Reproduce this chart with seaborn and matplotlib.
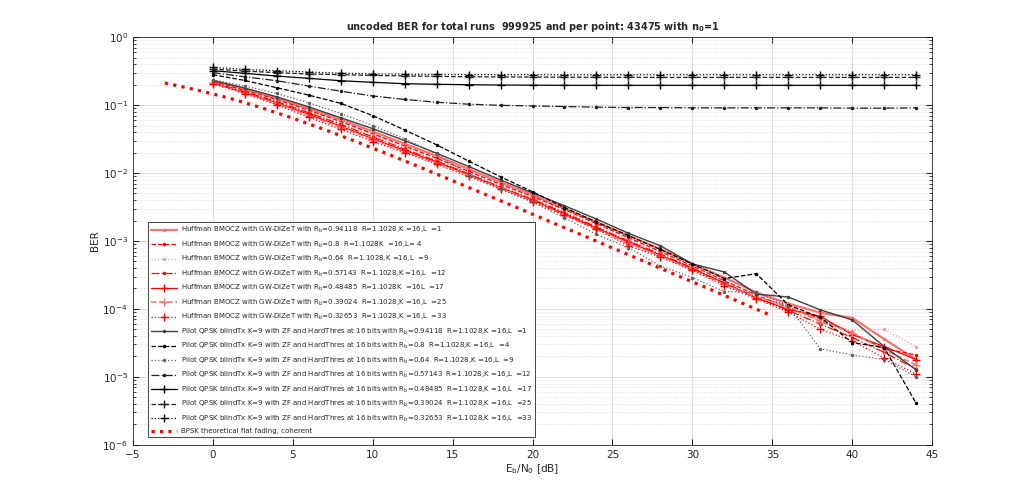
import numpy as np
import pandas as pd
import matplotlib
matplotlib.use("Agg")
import matplotlib.pyplot as plt
import seaborn as sns
from matplotlib.ticker import LogLocator, NullFormatter

# Eb/N0 grid of the simulations
snr = [0, 2, 4, 6, 8, 10, 12, 14, 16, 18, 20, 22, 24, 26, 28, 30, 32, 34, 36, 38, 40, 42, 44]

# Huffman BMOCZ with GW-DiZeT, one list per L
huff_L1 = [0.228, 0.172, 0.126, 0.089, 0.061, 0.041, 0.027, 0.0178, 0.0115, 0.0073, 0.0048, 0.0030,
           0.00190, 0.00120, 7.6e-4, 4.6e-4, 2.9e-4, 1.75e-4, 1.2e-4, 8.8e-5, 7.4e-5, 3.6e-5, 1.8e-5]
huff_L4 = [0.222, 0.165, 0.12, 0.084, 0.057, 0.038, 0.025, 0.0165, 0.0106, 0.0068, 0.0045, 0.0029,
           0.00180, 0.00112, 7.0e-4, 4.3e-4, 2.6e-4, 1.6e-4, 1.05e-4, 7.2e-5, 4.4e-5, 2.6e-5, 2.1e-5]
huff_L9 = [0.218, 0.16, 0.115, 0.08, 0.054, 0.036, 0.0238, 0.0156, 0.0100, 0.0064, 0.0042, 0.0027,
           0.00168, 0.00105, 6.6e-4, 4.1e-4, 2.5e-4, 1.55e-4, 1.0e-4, 6.8e-5, 4.8e-5, 5.0e-5, 2.8e-5]
huff_L12 = [0.215, 0.157, 0.112, 0.077, 0.052, 0.034, 0.0225, 0.0150, 0.0097, 0.0062, 0.0041, 0.0026,
            0.0016, 0.00100, 6.4e-4, 4.0e-4, 2.4e-4, 1.5e-4, 9.5e-5, 6.0e-5, 3.8e-5, 2.3e-5, 1.3e-5]
huff_L17 = [0.212, 0.153, 0.108, 0.073, 0.049, 0.032, 0.0215, 0.0145, 0.0095, 0.0061, 0.0040, 0.0025,
            0.00155, 9.6e-4, 6.2e-4, 3.9e-4, 2.4e-4, 1.45e-4, 9.8e-5, 7.8e-5, 4.2e-5, 2.8e-5, 1.8e-5]
huff_L25 = [0.21, 0.15, 0.105, 0.07, 0.047, 0.031, 0.0205, 0.0140, 0.0093, 0.0060, 0.0039, 0.0024,
            0.0015, 9.2e-4, 6.0e-4, 3.8e-4, 2.3e-4, 1.5e-4, 1.1e-4, 6.5e-5, 4.5e-5, 2.5e-5, 1.5e-5]
huff_L33 = [0.207, 0.147, 0.101, 0.066, 0.044, 0.029, 0.020, 0.0135, 0.0089, 0.0058, 0.0038, 0.0024,
            0.0015, 8.5e-4, 5.8e-4, 3.7e-4, 2.2e-4, 1.4e-4, 9.0e-5, 5.0e-5, 3.4e-5, 1.9e-5, 1.1e-5]

# Pilot QPSK blindTx, one list per L
pilot_L1 = [0.23, 0.178, 0.132, 0.094, 0.065, 0.045, 0.030, 0.0195, 0.0125, 0.0079, 0.0051, 0.0033,
            0.0021, 0.00130, 8.5e-4, 4.6e-4, 3.5e-4, 1.65e-4, 1.5e-4, 9.7e-5, 6.9e-5, 2.8e-5, 1.27e-5]
pilot_L4 = [0.28, 0.23, 0.18, 0.14, 0.106, 0.07, 0.043, 0.026, 0.015, 0.0088, 0.0053, 0.0031,
            0.0019, 0.0012, 7.5e-4, 4.6e-4, 2.8e-4, 3.3e-4, 1.15e-4, 7.5e-5, 3.2e-5, 2.7e-5, 4.1e-6]
pilot_L9 = [0.235, 0.19, 0.148, 0.108, 0.075, 0.050, 0.032, 0.019, 0.0095, 0.0058, 0.0037, 0.0022,
            0.00125, 8.0e-4, 4.3e-4, 2.9e-4, 1.8e-4, 1.75e-4, 1.1e-4, 2.6e-5, 2.1e-5, 1.8e-5, 1.0e-5]
pilot_L12 = [0.30, 0.26, 0.228, 0.19, 0.16, 0.136, 0.121, 0.11, 0.103, 0.099, 0.097, 0.095,
             0.093, 0.092, 0.092, 0.091, 0.091, 0.091, 0.091, 0.091, 0.09, 0.09, 0.091]
pilot_L17 = [0.32, 0.293, 0.267, 0.247, 0.228, 0.216, 0.206, 0.202, 0.199, 0.197, 0.196, 0.195,
             0.195, 0.195, 0.195, 0.195, 0.195, 0.195, 0.195, 0.195, 0.195, 0.195, 0.195]
pilot_L25 = [0.338, 0.316, 0.30, 0.286, 0.28, 0.273, 0.268, 0.264, 0.261, 0.259, 0.258, 0.257,
             0.256, 0.256, 0.255, 0.255, 0.255, 0.255, 0.255, 0.255, 0.255, 0.255, 0.255]
pilot_L33 = [0.358, 0.335, 0.32, 0.306, 0.295, 0.288, 0.284, 0.282, 0.281, 0.28, 0.28, 0.279,
             0.279, 0.279, 0.279, 0.279, 0.279, 0.279, 0.279, 0.279, 0.279, 0.279, 0.279]

# BPSK theoretical curve
bpsk_snr = [-3, -1, 1, 3, 5, 7, 9, 11, 13, 15, 17, 19, 21, 23, 25, 27, 29, 31, 33, 35]
bpsk_ber = [0.211, 0.167, 0.127, 0.092, 0.064, 0.0435, 0.0288, 0.0188, 0.0121, 0.0077, 0.0049,
            0.00312, 0.00197, 0.00125, 7.9e-4, 5.0e-4, 3.15e-4, 2.0e-4, 1.25e-4, 7.9e-5]

rates = ["0.94118", "0.8", "0.64", "0.57143", "0.48485", "0.39024", "0.32653"]
huff_tails = ["  R=1.1028,K =16,L  =1", "  R=1.1028K  =16,L= 4", "  R=1.1028,K =16,L  =9",
              "  R=1.1028,K =16,L  =12", "  R=1.1028K  =16L  =17", "  R=1.1028,K =16,L  =25",
              "  R=1.1028,K =16,L  =33"]
pilot_tails = ["  R=1.1028,K =16,L  =1", "  R=1.1028,K =16,L  =4", "  R=1.1028,K =16,L  =9",
               "  R=1.1028,K =16,L  =12", "  R=1.1028,K =16,L  =17", "  R=1.1028,K =16,L  =25",
               "  R=1.1028,K =16,L  =33"]

huff_data = [huff_L1, huff_L4, huff_L9, huff_L12, huff_L17, huff_L25, huff_L33]
pilot_data = [pilot_L1, pilot_L4, pilot_L9, pilot_L12, pilot_L17, pilot_L25, pilot_L33]

# style per L: linestyle, marker, colour, width
huff_styles = [('-', '.', '#ff6f6f', 1.6), ('--', '.', 'red', 0.9), (':', '.', '#ff9a9a', 0.9),
               ('-.', '.', 'red', 0.9), ('-', '+', 'red', 0.9), ('--', '+', '#ff6f6f', 1.1),
               (':', '+', 'red', 0.9)]
pilot_styles = [('-', '.', '#404040', 1.0), ('--', '.', 'black', 0.9), (':', '.', '#606060', 0.9),
                ('-.', '.', '#202020', 0.9), ('-', '+', 'black', 0.9), ('--', '+', '#202020', 0.9),
                (':', '+', 'black', 0.9)]

sns.set_style("ticks")
plt.rcParams['font.family'] = ['DejaVu Sans']

fig = plt.figure(figsize=(10.30, 5.01), dpi=100)
ax = fig.add_axes([0.129, 0.112, 0.776, 0.814])

for vals, (ls, mk, col, lw), rb, tail in zip(huff_data, huff_styles, rates, huff_tails):
    lab = "Huffman BMOCZ with GW-DiZeT with R$_\\mathregular{b}$=" + rb + tail
    ms = 6 if mk == '+' else 3
    sns.lineplot(x=snr, y=vals, ax=ax, color=col, linestyle=ls, marker=mk, markersize=ms,
                 linewidth=lw, label=lab, markeredgewidth=1.0, markeredgecolor=col)

for vals, (ls, mk, col, lw), rb, tail in zip(pilot_data, pilot_styles, rates, pilot_tails):
    lab = "Pilot QPSK blindTx K=9 with ZF and HardThres at 16 bits with R$_\\mathregular{b}$=" + rb + tail
    ms = 6 if mk == '+' else 3
    sns.lineplot(x=snr, y=vals, ax=ax, color=col, linestyle=ls, marker=mk, markersize=ms,
                 linewidth=lw, label=lab, markeredgewidth=1.0, markeredgecolor=col)

sns.lineplot(x=bpsk_snr, y=bpsk_ber, ax=ax, color='red', linestyle=':', linewidth=2.3,
             label="BPSK theoretical flat fading, coherent")

ax.set_yscale('log')
ax.set_xlim(-5, 45)
ax.set_ylim(1e-6, 1)
ax.set_xticks(range(-5, 50, 5))
ax.yaxis.set_major_locator(LogLocator(base=10, numticks=10))
ax.yaxis.set_minor_locator(LogLocator(base=10, subs=np.arange(2, 10), numticks=100))
ax.yaxis.set_minor_formatter(NullFormatter())

ax.grid(True, which='major', color='#d8d8d8', linewidth=0.6, linestyle='-')
ax.grid(True, which='minor', axis='y', color='#d0d0d0', linewidth=0.5, linestyle=':')
ax.tick_params(which='both', direction='in', top=True, right=True, labelsize=7.5, colors='#262626')
ax.tick_params(which='major', length=4)
ax.tick_params(which='minor', length=2)
for sp in ax.spines.values():
    sp.set_color('#262626')
    sp.set_linewidth(0.6)

ax.set_xlabel("E$_\\mathregular{b}$/N$_\\mathregular{0}$ [dB]", fontsize=7.5, color='#262626', labelpad=2)
ax.set_ylabel("BER", fontsize=7.5, color='#262626', labelpad=2)
ax.set_title("uncoded BER for total runs  999925 and per point: 43475 with n$_\\mathregular{0}$=1",
             fontsize=7, fontweight='bold', pad=5)

leg = ax.legend(loc='lower left', bbox_to_anchor=(0.0145, 0.01), fontsize=5.0, frameon=True,
                fancybox=False, edgecolor='#262626', framealpha=1, handlelength=3.8,
                labelspacing=0.62, borderpad=0.45, handletextpad=0.5)
leg.get_frame().set_linewidth(0.6)

fig.savefig("out.png", dpi=100)
